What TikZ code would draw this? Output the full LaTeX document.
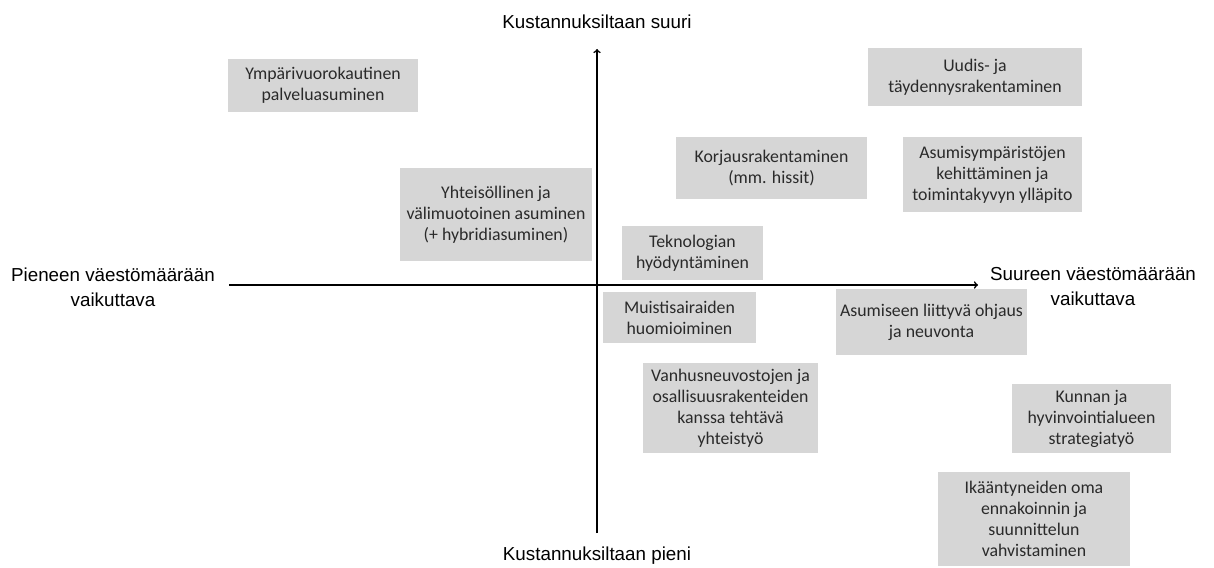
\documentclass[tikz,border=0pt]{standalone}
\usepackage{fontspec}
\setmainfont{Liberation Sans}
\newfontfamily\boxfont{Carlito}
\definecolor{boxgray}{HTML}{D6D6D6}
\definecolor{boxtext}{HTML}{2A2A2A}

\begin{document}
\begin{tikzpicture}[x=1pt,y=-1pt,
   axis/.style={line width=1.6pt,->},
   lbl/.style={align=center,font=\fontsize{18.8}{25}\selectfont},
   item/.style={fill=boxgray,text=boxtext,align=center,inner sep=0pt,
                font=\boxfont\fontsize{17.8}{21}\selectfont}]
   \useasboundingbox (0,0) rectangle (1214,567);
   % axes
   \coordinate (ybot) at (597,533);
   \coordinate (ytop) at (597,49);
   \coordinate (xlft) at (229,285);
   \coordinate (xrgt) at (978,285);
   \draw[axis] (ybot) -- (ytop);
   \draw[axis] (xlft) -- (xrgt);
   \node[lbl] (hicost) at (597,22) {Kustannuksiltaan suuri};
   \node[lbl] (locost) at (597,556) {Kustannuksiltaan pieni};
   \node[lbl] (smallpop) at (113,287) {Pieneen väestömäärään\\vaikuttava};
   \node[lbl] (largepop) at (1093,287) {Suureen väestömäärään\\vaikuttava};
   % boxes
   \node[item,minimum width=190,minimum height=53] (ympari) at (323,85.5) {Ympärivuorokautinen\\palveluasuminen};
   \node[item,minimum width=214,minimum height=58] (uudis) at (975,77) {Uudis- ja\\täydennysrakentaminen};
   \node[item,minimum width=191,minimum height=62] (korjaus) at (771.5,168) {Korjausrakentaminen\\(mm. hissit)};
   \node[item,minimum width=179,minimum height=75] (ymparisto) at (992.5,174.5) {Asumisympäristöjen\\kehittäminen ja\\toimintakyvyn ylläpito};
   \node[item,minimum width=192,minimum height=93] (yhteiso) at (496,214.5) {Yhteisöllinen ja\\välimuotoinen asuminen\\(+ hybridiasuminen)};
   \node[item,minimum width=141,minimum height=54] (tekno) at (692.5,253) {Teknologian\\hyödyntäminen};
   \node[item,minimum width=153,minimum height=51] (muisti) at (679.5,317.5) {Muistisairaiden\\huomioiminen};
   \node[item,minimum width=191,minimum height=66] (ohjaus) at (931.5,322) {Asumiseen liittyvä ohjaus\\ja neuvonta};
   \node[item,minimum width=175,minimum height=90] (vanhus) at (730.5,408) {Vanhusneuvostojen ja\\osallisuusrakenteiden\\kanssa tehtävä\\yhteistyö};
   \node[item,minimum width=159,minimum height=69] (kunta) at (1091.5,418.5) {Kunnan ja\\hyvinvointialueen\\strategiatyö};
   \node[item,minimum width=192,minimum height=94] (ennakoi) at (1034,519) {Ikääntyneiden oma\\ennakoinnin ja\\suunnittelun\\vahvistaminen};
\end{tikzpicture}
\end{document}
